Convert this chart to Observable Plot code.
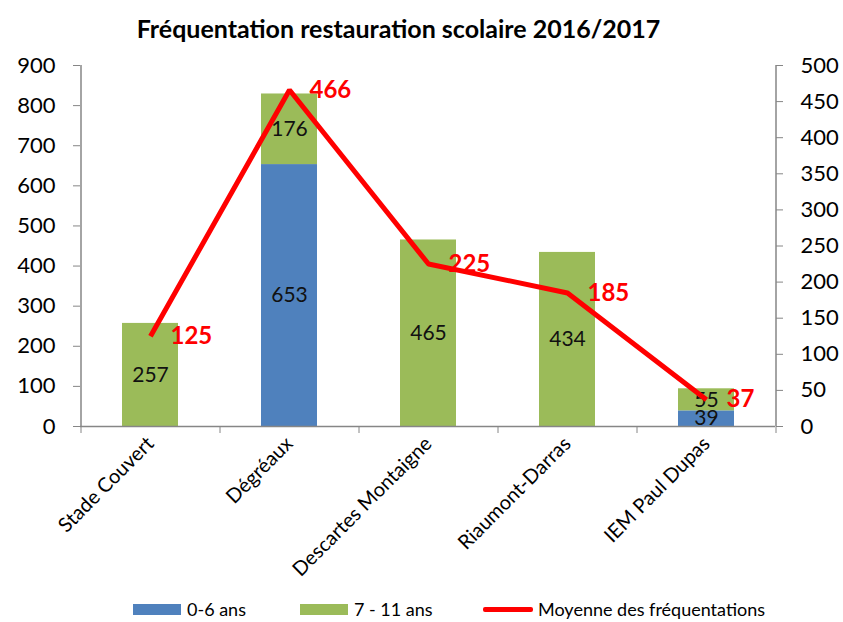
<!DOCTYPE html>
<html>
<head>
<meta charset="utf-8">
<script src="https://cdn.jsdelivr.net/npm/d3@7"></script>
<script src="https://cdn.jsdelivr.net/npm/@observablehq/plot@0.6"></script>
<style>
  body { margin: 0; background: #fff; font-family: Lato, "Open Sans", sans-serif; }
  #title { height: 50px; line-height: 56px; text-align: center; padding-right: 46px; font-weight: bold; font-size: 25px; color: #000; }
  #chart { position: relative; width: 843px; }
  #legend { position: relative; height: 27px; font-size: 18px; color: #000; }
  .item { position: absolute; top: 3px; display: flex; align-items: center; }
  .sw { width: 48px; height: 11px; margin-right: 6px; }
  .ln { width: 50px; height: 5px; margin-right: 5px; border-radius: 2px; }
</style>
</head>
<body>
<div id="title">Fréquentation restauration scolaire 2016/2017</div>
<div id="chart"></div>
<div id="legend"></div>
<script>
const sites = ["Stade Couvert", "Dégréaux", "Descartes Montaigne", "Riaumont-Darras", "IEM Paul Dupas"];
const groups = ["0-6 ans", "7 - 11 ans"];
const colors = ["#4F81BD", "#9BBB59"];
const ages0to6 = [0, 653, 0, 0, 39];
const ages7to11 = [257, 176, 465, 434, 55];
const moyenne = [125, 466, 225, 185, 37];
const leftTicks = [0, 100, 200, 300, 400, 500, 600, 700, 800, 900];
const rightTicks = [0, 50, 100, 150, 200, 250, 300, 350, 400, 450, 500];
const lineName = "Moyenne des fréquentations";

const leftMax = 900, rightMax = 500;
const toLeft = v => v * leftMax / rightMax;

const bars = [];
sites.forEach((s, i) => {
  bars.push({site: s, group: groups[0], value: ages0to6[i]});
  bars.push({site: s, group: groups[1], value: ages7to11[i]});
});
const barsShown = bars.filter(d => d.value > 0);
const lineData = sites.map((s, i) => ({site: s, value: moyenne[i]}));

const W = 843, H = 545, mL = 80, mR = 68, mT = 15, mB = 169;
const step = (W - mL - mR) / sites.length;
const grey = "#868686";

const chart = Plot.plot({
  width: W, height: H,
  marginLeft: mL, marginRight: mR, marginTop: mT, marginBottom: mB,
  style: {fontFamily: "Lato, 'Open Sans', sans-serif", background: "white", color: "black"},
  x: {domain: sites, paddingInner: 0.6, paddingOuter: 0.3, label: null},
  y: {domain: [0, leftMax], label: null},
  color: {domain: groups, range: colors},
  marks: [
    Plot.barY(barsShown, {x: "site", y: "value", fill: "group"}),
    Plot.text(barsShown, Plot.stackY({x: "site", y: "value", text: d => String(d.value), fontSize: 21, fill: "#111"})),
    Plot.ruleY([0], {stroke: grey, strokeWidth: 1.5}),
    Plot.ruleX([sites[0]], {dx: -step / 2, stroke: grey, strokeWidth: 1.5}),
    Plot.ruleX([sites[sites.length - 1]], {dx: step / 2, stroke: grey, strokeWidth: 1.5}),
    Plot.axisY(leftTicks, {anchor: "left", tickSize: 7, tickPadding: 18, fontSize: 22, stroke: grey, fill: "black", label: null}),
    Plot.axisY(rightTicks.map(toLeft), {anchor: "right", tickSize: 7, tickPadding: 18, fontSize: 22, stroke: grey, fill: "black", label: null,
      tickFormat: d => String(Math.round(d * rightMax / leftMax))}),
    Plot.axisX({tickSize: 7, tickFormat: () => "", dx: -step / 2, stroke: grey, label: null}),
    Plot.axisX([sites[sites.length - 1]], {tickSize: 7, tickFormat: () => "", dx: step / 2, stroke: grey, label: null}),
    Plot.axisX({tickSize: 0, tickPadding: 14, tickRotate: -45, fontSize: 20, fill: "black", label: null}),
    Plot.line(lineData, {x: "site", y: d => toLeft(d.value), stroke: "#FF0000", strokeWidth: 5, strokeLinejoin: "miter", strokeLinecap: "butt"}),
    Plot.text(lineData, {x: "site", y: d => toLeft(d.value), text: d => String(d.value), dx: 20, textAnchor: "start", fill: "#FF0000", fontWeight: "bold", fontSize: 24})
  ]
});
document.getElementById("chart").appendChild(chart);

const legend = document.getElementById("legend");
const items = [
  {label: groups[0], color: colors[0], kind: "sw", left: 133},
  {label: groups[1], color: colors[1], kind: "sw", left: 300},
  {label: lineName, color: "#FF0000", kind: "ln", left: 483}
];
items.forEach(it => {
  const d = document.createElement("div");
  d.className = "item";
  d.style.left = it.left + "px";
  const s = document.createElement("span");
  s.className = it.kind;
  s.style.background = it.color;
  const t = document.createElement("span");
  t.textContent = it.label;
  d.appendChild(s); d.appendChild(t);
  legend.appendChild(d);
});
</script>
</body>
</html>
